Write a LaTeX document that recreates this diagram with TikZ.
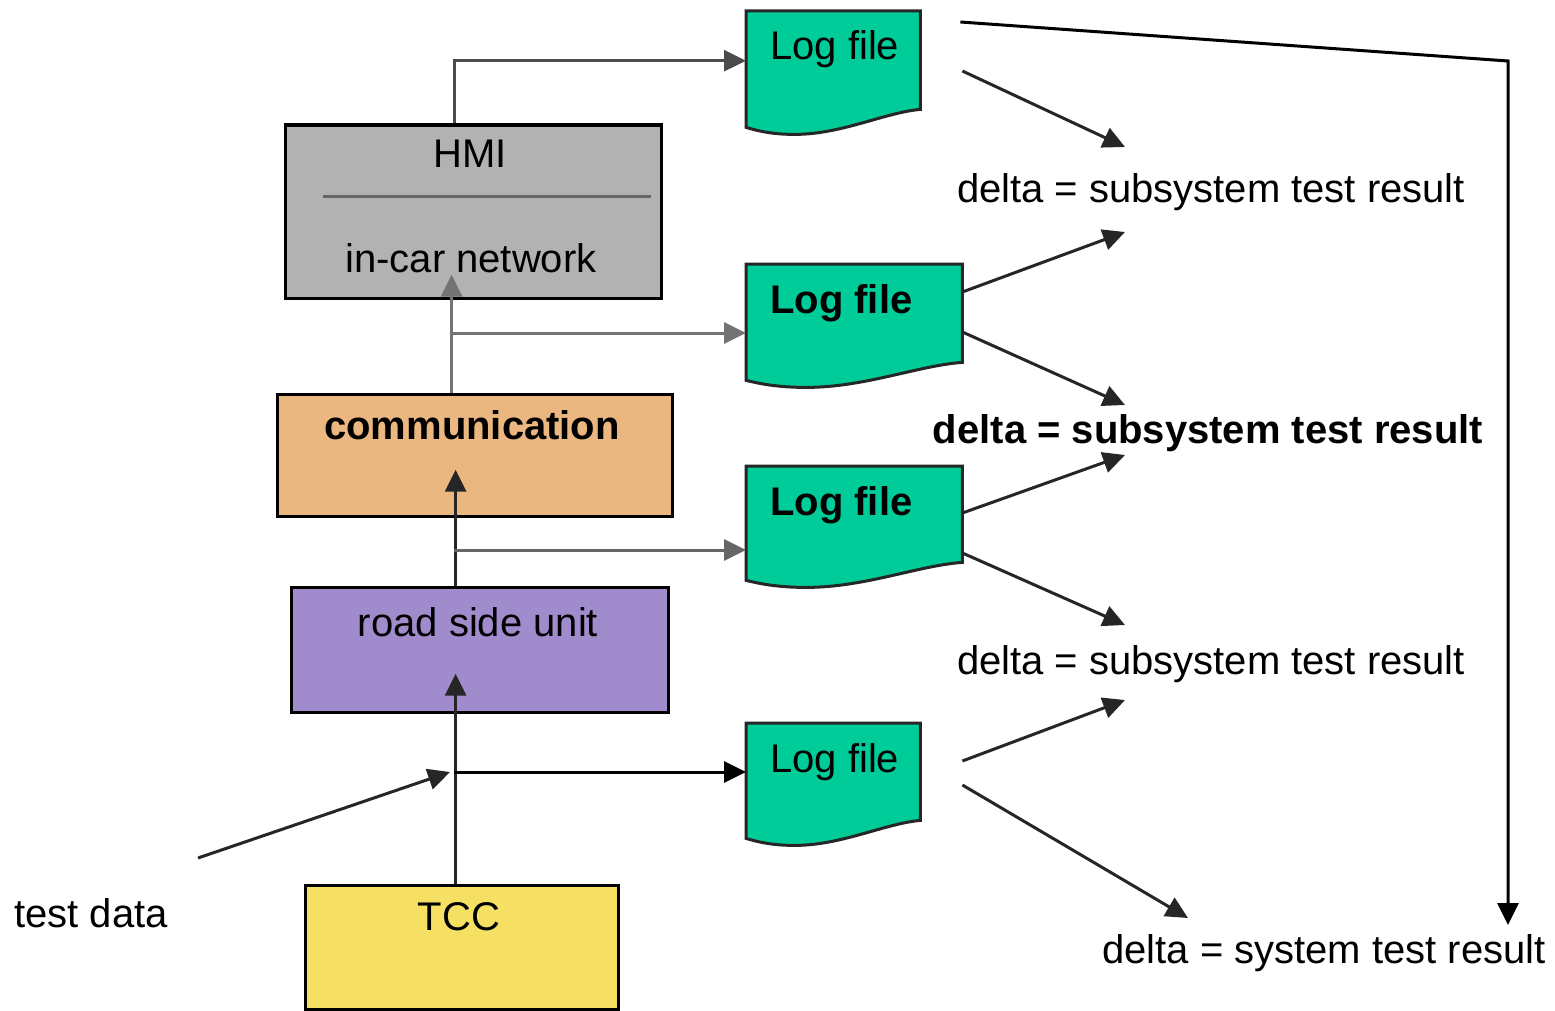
\documentclass[tikz,border=0pt]{standalone}
\usepackage{fontspec}
\setmainfont{Liberation Sans}
\usetikzlibrary{arrows.meta,calc}
\definecolor{hmigray}{RGB}{178,178,178}
\definecolor{commorange}{RGB}{235,183,128}
\definecolor{rsupurple}{RGB}{160,140,204}
\definecolor{tccyellow}{RGB}{245,224,100}
\definecolor{lfgreen}{RGB}{0,204,153}
\newcommand\logfile[6]{% name, x, top, width, height(left), bold?
  \node[anchor=north west, minimum width=#4, minimum height=#5, inner sep=0pt] (#1) at (#2,#3) {};
  \filldraw[lfshape] (#1.south west) -- (#1.north west) -- (#1.north east) -- ($(#1.south east)+(0,-18)$)
    .. controls ($(#1.south west)+(0.8*#4,-15)$) and ($(#1.south west)+(0.55*#4,7)$) .. ($(#1.south west)+(0.28*#4,7)$)
    .. controls ($(#1.south west)+(0.14*#4,7)$) and ($(#1.south west)+(0.06*#4,3)$) .. cycle;
  \node[txt, anchor=base west] (#1t) at ($(#1.north west)+(24,49)$) {#6Log file};
}
\begin{document}
\begin{tikzpicture}[x=1pt,y=-1pt,
  box/.style={draw=black, line width=3.2pt, anchor=north west, inner sep=0pt},
  txt/.style={font=\fontsize{40}{45}\selectfont, anchor=base, inner sep=0pt},
  conn/.style={line width=3pt, draw=black!85},
  arr/.style={conn, -{Triangle[length=22pt,width=21pt]}},
  lfshape/.style={draw=black!85, line width=3pt, fill=lfgreen}
]
\useasboundingbox (0,0) rectangle (1555,1011);

% boxes
\node[box, fill=hmigray, minimum width=376, minimum height=173] (hmi) at (283.5,123.5) {};
\draw[line width=3pt, draw=black!60] (323,197) -- (651,197);
\node[txt] (hmit) at (470,168) {HMI};
\node[txt] (icn) at (471,272) {in-car network};

\node[box, fill=commorange, minimum width=395, minimum height=122] (comm) at (275.5,392.5) {};
\node[txt, font=\fontsize{40}{45}\selectfont\bfseries] (commt) at (472,439) {communication};

\node[box, fill=rsupurple, minimum width=377, minimum height=125] (rsu) at (289.5,585.5) {};
\node[txt] (rsut) at (478,636) {road side unit};

\node[box, fill=tccyellow, minimum width=313, minimum height=124] (tcc) at (303.5,883.5) {};
\node[txt] (tcct) at (459,930) {TCC};

\node[txt] (td) at (91,927) {test data};

% log files
\logfile{lf1}{746}{11}{174}{116}{}
\logfile{lf2}{746}{264}{216}{116}{\bfseries}
\logfile{lf3}{746}{466}{216}{114}{\bfseries}
\logfile{lf4}{746}{723}{174}{115}{}

% delta texts
\node[txt] (d1) at (1211,203) {delta = subsystem test result};
\node[txt, font=\fontsize{40}{45}\selectfont\bfseries] (d2) at (1208,443) {delta = subsystem test result};
\node[txt] (d3) at (1211,674) {delta = subsystem test result};
\node[txt] (d4) at (1324,963) {delta = system test result};

% vertical chain
\draw[arr, draw=black!70] ([xshift=-18.5pt]hmi.north) |- ([yshift=8.5pt]lf1.west);
\draw[arr, draw=black!55] ([xshift=-23pt]comm.north) -- ([xshift=-23pt,yshift=25pt]comm.north |- hmi.south);
\draw[arr, draw=black!85] ([xshift=-24pt]rsu.north) -- ([xshift=-24pt,yshift=48pt]rsu.north |- comm.south);
\draw[arr, draw=black!85] ([xshift=-6pt]tcc.north) -- ([xshift=-6pt,yshift=40pt]tcc.north |- rsu.south);

% branches to log files
\coordinate (j2) at (450,333);
\coordinate (j3) at (454,550);
\coordinate (j4) at (454,772);
\draw[arr, draw=black!55] (j2) -- (j2 -| lf2.west);
\draw[arr, draw=black!60] (j3) -- (j3 -| lf3.west);
\draw[arr, draw=black] (j4) -- (j4 -| lf4.west);

% test data input
\coordinate (td0) at (198,858);
\draw[arr] (td0) -- ([xshift=-4pt]j4);

% log file outputs
\coordinate (t1a) at (1125,147);
\coordinate (t1b) at (1125,232);
\coordinate (t2a) at (1125,405);
\coordinate (t2b) at (1125,455);
\coordinate (t3a) at (1125,625);
\coordinate (t3b) at (1125,700);
\coordinate (t4) at (1188,918);
\coordinate (corner) at (1508,61);
\coordinate (t5) at (1508,925);

\draw[arr] ($(lf1.north east)+(42,60)$) -- (t1a);
\draw[arr] ($(lf2.north east)+(0,28)$) -- (t1b);
\draw[arr] ($(lf2.north east)+(0,68)$) -- (t2a);
\draw[arr] ($(lf3.north east)+(0,47)$) -- (t2b);
\draw[arr] ($(lf3.north east)+(0,87)$) -- (t3a);
\draw[arr] ($(lf4.north east)+(42,38)$) -- (t3b);
\draw[arr] ($(lf4.north east)+(42,62)$) -- (t4);
\draw[arr, draw=black] ($(lf1.north east)+(40,11)$) -- (corner) -- (t5);
\end{tikzpicture}
\end{document}
